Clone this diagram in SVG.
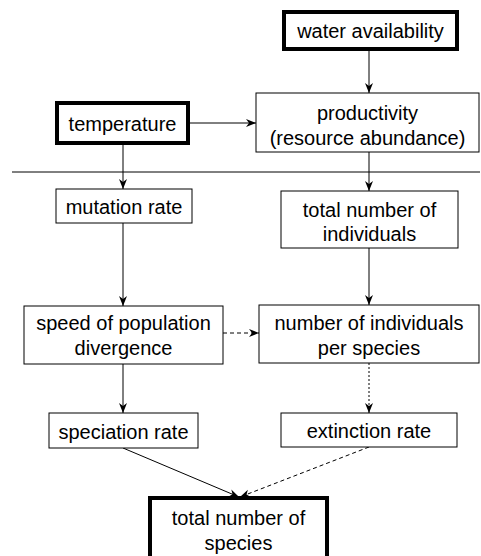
<svg xmlns="http://www.w3.org/2000/svg" width="481" height="556" viewBox="0 0 481 556">
<style>
.box{fill:#fff;stroke:#000;stroke-width:1}
.thick{fill:#fff;stroke:#000;stroke-width:4}
text{font-family:"Liberation Sans",Arial,sans-serif;font-size:20px;fill:#000;text-anchor:middle}
.c{stroke:#000;stroke-width:1;fill:none}
.dash{stroke-dasharray:4,3}
.dot{stroke-dasharray:2,2}
</style>
<defs>
<marker id="ah" viewBox="0 0 10 10" refX="10" refY="5" markerWidth="10" markerHeight="10" markerUnits="userSpaceOnUse" orient="auto">
<path d="M0,1 L10,5 L0,9 L3,5 Z" fill="#000"/>
</marker>
</defs>
<rect width="481" height="556" fill="#fff"/>
<g id="connectors">
<line class="c" x1="12" y1="172" x2="480" y2="172"/>
<line class="c" x1="369" y1="49" x2="369" y2="93" marker-end="url(#ah)"/>
<line class="c" x1="188" y1="123" x2="256" y2="123" marker-end="url(#ah)"/>
<line class="c" x1="123" y1="143" x2="123" y2="189" marker-end="url(#ah)"/>
<line class="c" x1="369" y1="152" x2="369" y2="191" marker-end="url(#ah)"/>
<line class="c" x1="123" y1="223" x2="123" y2="306" marker-end="url(#ah)"/>
<line class="c" x1="369" y1="248" x2="369" y2="305" marker-end="url(#ah)"/>
<line class="c dash" x1="223" y1="333" x2="259" y2="333" marker-end="url(#ah)"/>
<line class="c" x1="123" y1="364" x2="123" y2="413" marker-end="url(#ah)"/>
<line class="c dot" x1="369" y1="363" x2="369" y2="413" marker-end="url(#ah)"/>
<line class="c" x1="123" y1="448" x2="239" y2="497" marker-end="url(#ah)"/>
<line class="c dash" x1="369" y1="447" x2="240" y2="497" marker-end="url(#ah)"/>
</g>
<g id="water">
<rect class="thick" x="284" y="12" width="173" height="37"/>
<text x="370.5" y="38">water availability</text>
</g>
<g id="productivity">
<rect class="box" x="256" y="93" width="223" height="59"/>
<text x="367.5" y="120">productivity</text>
<text x="367.5" y="145">(resource abundance)</text>
</g>
<g id="temperature">
<rect class="thick" x="57" y="103" width="131" height="40"/>
<text x="122.5" y="131">temperature</text>
</g>
<g id="mutation">
<rect class="box" x="56" y="189" width="136" height="34"/>
<text x="124" y="214">mutation rate</text>
</g>
<g id="individuals">
<rect class="box" x="281" y="191" width="177" height="57"/>
<text x="369.5" y="217">total number of</text>
<text x="369.5" y="241">individuals</text>
</g>
<g id="divergence">
<rect class="box" x="24" y="306" width="199" height="58"/>
<text x="123.5" y="330">speed of population</text>
<text x="123.5" y="355">divergence</text>
</g>
<g id="perspecies">
<rect class="box" x="259" y="305" width="220" height="58"/>
<text x="369" y="330">number of individuals</text>
<text x="369" y="355">per species</text>
</g>
<g id="speciation">
<rect class="box" x="49" y="413" width="149" height="35"/>
<text x="123.5" y="439">speciation rate</text>
</g>
<g id="extinction">
<rect class="box" x="281" y="413" width="176" height="34"/>
<text x="369" y="438">extinction rate</text>
</g>
<g id="species">
<rect class="thick" x="150" y="498" width="177" height="64"/>
<text x="238.5" y="525">total number of</text>
<text x="238.5" y="550">species</text>
</g>
</svg>
